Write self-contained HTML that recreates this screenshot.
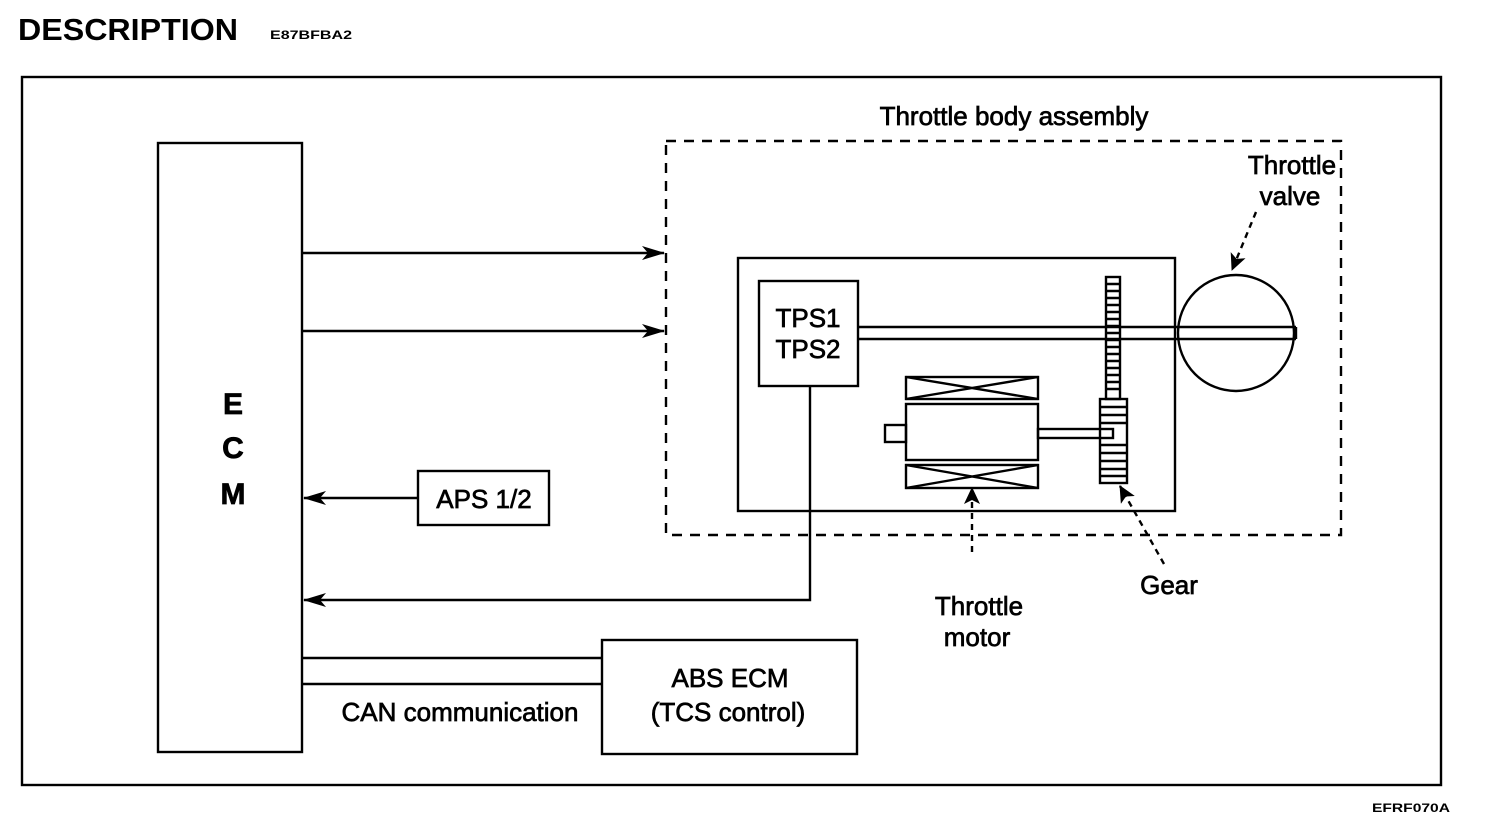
<!DOCTYPE html>
<html><head><meta charset="utf-8"><style>
html,body{margin:0;padding:0;background:#fff;}
svg{display:block;}
text{font-family:"Liberation Sans",sans-serif;fill:#000;}
</style></head><body>
<svg width="1504" height="826" viewBox="0 0 1504 826" xmlns="http://www.w3.org/2000/svg">
<defs>
<marker id="a" markerWidth="18" markerHeight="16" refX="16" refY="8" orient="auto" markerUnits="userSpaceOnUse"><path d="M0,0 L17,8 L0,16 L4,8 Z" fill="#000"/></marker>
<marker id="b" markerWidth="24" markerHeight="14" refX="22" refY="7" orient="auto" markerUnits="userSpaceOnUse"><path d="M0,0 L23,7 L0,14 L6,7 Z" fill="#000"/></marker>
</defs>
<text x="18" y="40" font-size="31" font-weight="bold" textLength="220" lengthAdjust="spacingAndGlyphs">DESCRIPTION</text>
<text x="270" y="39" font-size="12" font-weight="bold" textLength="82" lengthAdjust="spacingAndGlyphs">E87BFBA2</text>
<text x="1372" y="812" font-size="12" font-weight="bold" textLength="78" lengthAdjust="spacingAndGlyphs">EFRF070A</text>
<g fill="none" stroke="#000" stroke-width="2.4">
<rect x="22" y="77" width="1419" height="708"/>
<rect x="158" y="143" width="144" height="609"/>
<rect x="666" y="141" width="675" height="394" stroke-dasharray="10,8"/>
<rect x="738" y="258" width="437" height="253"/>
<rect x="759" y="281" width="99" height="105"/>
<rect x="418" y="471" width="131" height="54"/>
<rect x="602" y="640" width="255" height="114"/>
<line x1="302" y1="253" x2="664" y2="253" marker-end="url(#b)"/>
<line x1="302" y1="331" x2="664" y2="331" marker-end="url(#b)"/>
<line x1="418" y1="498" x2="304" y2="498" marker-end="url(#b)"/>
<polyline points="810,386 810,600 304,600" marker-end="url(#b)"/>
<line x1="302" y1="658" x2="602" y2="658"/>
<line x1="302" y1="684" x2="602" y2="684"/>
<line x1="858" y1="327" x2="1296" y2="327"/>
<line x1="858" y1="339" x2="1296" y2="339"/>
<line x1="1296" y1="327" x2="1296" y2="339"/>
<circle cx="1236" cy="333" r="58"/>
<rect x="906" y="377" width="132" height="22"/>
<path d="M906,377 L1038,399 M906,399 L1038,377"/>
<rect x="906" y="404" width="132" height="56"/>
<rect x="906" y="465" width="132" height="23"/>
<path d="M906,465 L1038,488 M906,488 L1038,465"/>
<rect x="885" y="425" width="21" height="17"/>
<rect x="1038" y="429" width="75" height="9"/>
<rect x="1106" y="277" width="14" height="122"/>
<rect x="1100" y="399" width="27" height="84"/>
</g>
<g stroke="#000" stroke-width="2.4">
<path d="M1106,284H1120M1106,291H1120M1106,298H1120M1106,305H1120M1106,312H1120M1106,319H1120M1106,326H1120M1106,333H1120M1106,340H1120M1106,347H1120M1106,354H1120M1106,361H1120M1106,368H1120M1106,375H1120M1106,382H1120M1106,389H1120"/>
<path d="M1100,407H1127M1100,415H1127M1100,423H1127M1100,445H1127M1100,453H1127M1100,461H1127M1100,469H1127M1100,476H1127"/>
</g>
<g fill="none" stroke="#000" stroke-width="2.4" stroke-dasharray="6,5">
<line x1="1256" y1="212" x2="1232" y2="270" marker-end="url(#a)"/>
<line x1="972" y1="552" x2="972" y2="488" marker-end="url(#a)"/>
<line x1="1164" y1="564" x2="1120" y2="486" marker-end="url(#a)"/>
</g>
<g font-size="26" stroke="#000" stroke-width="0.7">
<text x="233" y="414" text-anchor="middle" font-size="30" font-weight="bold">E</text>
<text x="233" y="458" text-anchor="middle" font-size="30" font-weight="bold">C</text>
<text x="233" y="504" text-anchor="middle" font-size="30" font-weight="bold">M</text>
<text x="808" y="327" text-anchor="middle">TPS1</text>
<text x="808" y="358" text-anchor="middle">TPS2</text>
<text x="484" y="508" text-anchor="middle">APS 1/2</text>
<text x="1014" y="125" text-anchor="middle">Throttle body assembly</text>
<text x="1292" y="174" text-anchor="middle">Throttle</text>
<text x="1290" y="205" text-anchor="middle">valve</text>
<text x="979" y="615" text-anchor="middle">Throttle</text>
<text x="977" y="646" text-anchor="middle">motor</text>
<text x="1169" y="594" text-anchor="middle">Gear</text>
<text x="460" y="721" text-anchor="middle">CAN communication</text>
<text x="730" y="687" text-anchor="middle">ABS ECM</text>
<text x="728" y="721" text-anchor="middle">(TCS control)</text>
</g>
</svg>
</body></html>
